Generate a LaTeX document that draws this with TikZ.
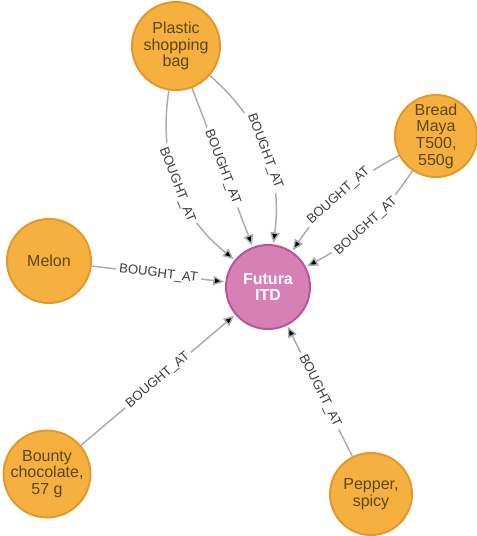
\documentclass[tikz,border=0pt]{standalone}
\usepackage{fontspec}
\setmainfont{Liberation Sans}
\usetikzlibrary{arrows.meta}

\definecolor{itemfill}{HTML}{F6B040}
\definecolor{itemline}{HTML}{E3982A}
\definecolor{itemtext}{HTML}{5A460F}
\definecolor{shopfill}{HTML}{D680B5}
\definecolor{shopline}{HTML}{B9559C}
\definecolor{relline}{HTML}{ABABAB}
\definecolor{reltext}{HTML}{3C3C3C}

\begin{document}
\begin{tikzpicture}[x=0.75pt,y=-0.75pt,>={Triangle[length=8pt,width=7pt]}]
			\tikzstyle{item} = [circle,fill=itemfill,draw=itemline,line width=1.5pt,text=itemtext,align=center,inner sep=0pt,minimum size=63pt,font=\fontsize{12}{12.5}\selectfont];
			\tikzstyle{shop} = [item,fill=shopfill,draw=shopline,text=white,font=\fontsize{12}{12.5}\selectfont\bfseries];
			\tikzstyle{rel} = [->,draw=relline,line width=1.1pt,shorten >=1pt];
			\tikzstyle{lbl} = [sloped,fill=white,text=reltext,inner sep=2.5pt,font=\fontsize{9.8}{10}\selectfont];
			\useasboundingbox (0,0) rectangle (476,536);
			\node[item,minimum size=66pt] (bag) at (176,46) {Plastic\\shopping\\bag};
			\node[item,minimum size=61.5pt] (bread) at (436,136) {Bread\\Maya\\T500,\\550g};
			\node[item] (melon) at (49,261) {Melon};
			\node[shop] (futura) at (268,287) {Futura\\ITD};
			\node[item] (bounty) at (47,474) {Bounty\\chocolate,\\57 g};
			\node[item,minimum size=61.5pt] (pepper) at (371,494) {Pepper,\\spicy};
			\draw[rel] (bag) edge[bend right=30] node[lbl] {BOUGHT\_AT} (futura);
			\draw[rel] (bag) edge node[lbl] {BOUGHT\_AT} (futura);
			\draw[rel] (bag) edge[bend left=28] node[lbl] {BOUGHT\_AT} (futura);
			\draw[rel] (bread) edge[bend right=14] node[lbl] {BOUGHT\_AT} (futura);
			\draw[rel] (bread) edge[bend left=14] node[lbl] {BOUGHT\_AT} (futura);
			\draw[rel] (melon) edge node[lbl] {BOUGHT\_AT} (futura);
			\draw[rel] (bounty) edge node[lbl] {BOUGHT\_AT} (futura);
			\draw[rel] (pepper) edge node[lbl] {BOUGHT\_AT} (futura);
		\end{tikzpicture}
\end{document}
